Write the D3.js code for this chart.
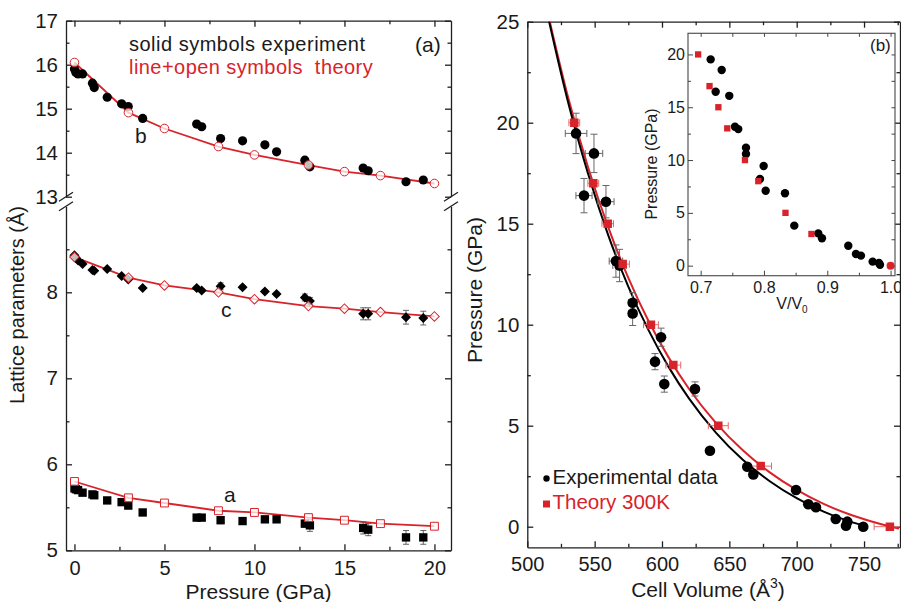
<!DOCTYPE html>
<html lang="en">
<head>
<meta charset="utf-8">
<script src="https://d3js.org/d3.v7.min.js"></script>
<style>
  body { margin: 0; background: #fff; }
  svg text { font-family: "Liberation Sans", Arial, sans-serif; fill: #1a1a1a; }
</style>
</head>
<body>
<div class="display1"></div>
<script>
// ---------- panel (a): lattice parameters vs pressure ----------
var pExp = [0, 0.08, 0.2, 0.45, 1.0, 1.1, 1.82, 2.62, 2.99, 3.79, 6.79, 7.07, 8.12, 9.34, 10.58, 11.23, 12.8, 13.08, 16.04, 16.32, 18.42, 19.38];
var bExp = [15.90, 15.82, 15.79, 15.79, 15.58, 15.48, 15.26, 15.11, 15.05, 14.78, 14.65, 14.59, 14.32, 14.27, 14.18, 14.02, 13.83, 13.68, 13.65, 13.59, 13.34, 13.38];
var cExp = [8.43, 8.40, 8.37, 8.33, 8.26, 8.25, 8.27, 8.19, 8.15, 8.05, 8.05, 8.02, 8.07, 8.06, 8.01, 7.98, 7.94, 7.90, 7.75, 7.75, 7.71, 7.70];
var aExp = [5.72, 5.71, 5.70, 5.67, 5.65, 5.64, 5.58, 5.56, 5.52, 5.44, 5.38, 5.38, 5.35, 5.34, 5.36, 5.36, 5.31, 5.29, 5.26, 5.24, 5.15, 5.15];
var cErr = [0, 0, 0, 0, 0, 0, 0, 0, 0, 0, 0.02, 0.02, 0.04, 0.02, 0.02, 0.02, 0.04, 0.04, 0.07, 0.07, 0.08, 0.08];
var aErr = [0, 0, 0, 0, 0, 0, 0, 0, 0, 0, 0.02, 0.02, 0.04, 0.02, 0.02, 0.02, 0.04, 0.07, 0.07, 0.07, 0.08, 0.08];

var pTh = [0, 3, 5, 8, 10, 13, 15, 17, 20];
var bTh = [16.05, 14.91, 14.55, 14.14, 13.95, 13.72, 13.57, 13.48, 13.30];
var cTh = [8.41, 8.17, 8.08, 8.00, 7.92, 7.84, 7.81, 7.77, 7.72];
var aTh = [5.80, 5.61, 5.55, 5.46, 5.44, 5.38, 5.35, 5.31, 5.28];

// ---------- panel (b): pressure vs cell volume ----------
var vExp = [536.2, 549.5, 542.1, 558.4, 565.8, 568.5, 578.2, 578.2, 599.3, 594.8, 601.7, 624.5, 635.6, 663.3, 667.8, 699.5, 708.6, 714.3, 729.0, 737.6, 736.6, 749.4];
var pvExp = [19.47, 18.48, 16.39, 16.09, 13.15, 12.93, 11.09, 10.56, 9.38, 8.17, 7.06, 6.82, 3.76, 2.97, 2.59, 1.82, 1.11, 0.96, 0.38, 0.25, 0.05, 0.0];
var vExpErr = [8, 6.5, 6, 6, 5, 5, 3, 3, 2, 2, 2, 2, 1.5, 1, 1, 1, 1, 1, 1, 1, 1, 1];
var pExpErr = [1.0, 0.95, 0.85, 0.8, 0.8, 0.8, 0.5, 0.6, 0.45, 0.4, 0.4, 0.35, 0.15, 0.1, 0.1, 0.1, 0.05, 0.05, 0.05, 0.05, 0.05, 0.05];

var vTh = [534.9, 549.0, 559.7, 570.8, 591.8, 608.4, 641.8, 673.3, 769.2];
var pvTh = [20, 17, 15, 13, 10, 8, 5, 3, 0];
var vThErr = [4, 4, 4.3, 5, 5.5, 5.5, 7.4, 8, 11.7];

// fitted EOS curves
var vFitExp = [516, 530, 545, 560, 575, 590, 605, 620, 640, 660, 680, 700, 720, 735, 752];
var pFitExp = [25.06, 21.09, 17.50, 14.45, 11.89, 9.73, 7.90, 6.35, 4.66, 3.31, 2.25, 1.41, 0.75, 0.36, 0];
var vFitTh = [516, 530, 545, 560, 575, 590, 605, 620, 640, 660, 680, 700, 720, 740, 755, 770, 776];
var pFitTh = [25.20, 21.33, 17.82, 14.84, 12.32, 10.18, 8.37, 6.83, 5.14, 3.78, 2.69, 1.82, 1.13, 0.59, 0.27, 0, -0.09];

// inset: pressure vs V/V0
var rExp = [0.7158, 0.7332, 0.7237, 0.7452, 0.7542, 0.7594, 0.7716, 0.7716, 0.7937, 0.7995, 0.8027, 0.8332, 0.8479, 0.8858, 0.8916, 0.9332, 0.9453, 0.9532, 0.9717, 0.9817, 0.9833];
var prExp = [19.53, 18.52, 16.46, 16.08, 13.15, 12.93, 11.16, 10.57, 8.2, 9.43, 7.1, 6.85, 3.79, 3.06, 2.59, 1.89, 1.11, 0.95, 0.38, 0.25, 0.08];
var rTh = [0.696, 0.714, 0.728, 0.742, 0.770, 0.791, 0.834, 0.875, 1.0];
var prTh = [20, 17, 15, 13, 10, 8, 5, 3, 0];

var width = 901, height = 602;
var red = '#d8232a', ink = '#1f1f1f';
var svg = d3.select('.display1').append('svg').attr('width', width).attr('height', height);
var fmtInt = d3.format('d');

function ax(g, axis, fs) {
  g.call(axis).attr('font-size', fs).attr('color', ink);
  g.selectAll('path, line').attr('stroke-width', 1.3);
  return g;
}
function minor(g, axis) {
  g.call(axis).attr('color', ink);
  g.select('.domain').remove();
  g.selectAll('line').attr('stroke-width', 1.3);
}

// ================= left panel =================
var x1 = d3.scaleLinear().domain([-0.47, 20.92]).range([66, 451]);
var yUp = d3.scaleLinear().domain([13, 17]).range([196.7, 20.7]);
var yLo = d3.scaleLinear().domain([5, 9]).range([550.3, 206.3]);
var L = svg.append('g');

ax(L.append('g').attr('transform', 'translate(0,550.3)'),
  d3.axisBottom(x1).tickValues([0, 5, 10, 15, 20]).tickFormat(fmtInt).tickSizeInner(-6).tickSizeOuter(0).tickPadding(11), 20);
minor(L.append('g').attr('transform', 'translate(0,550.3)'),
  d3.axisBottom(x1).tickValues([2.5, 7.5, 12.5, 17.5]).tickSize(-3.5).tickFormat(''));
ax(L.append('g').attr('transform', 'translate(0,20.7)'),
  d3.axisTop(x1).tickValues([0, 5, 10, 15, 20]).tickSizeInner(-6).tickSizeOuter(0).tickFormat(''), 20);
minor(L.append('g').attr('transform', 'translate(0,20.7)'),
  d3.axisTop(x1).tickValues([2.5, 7.5, 12.5, 17.5]).tickSize(-3.5).tickFormat(''));

[[yUp, [13, 14, 15, 16, 17], [13.5, 14.5, 15.5, 16.5]], [yLo, [5, 6, 7, 8], [5.5, 6.5, 7.5, 8.5]]].forEach(function(s) {
  ax(L.append('g').attr('transform', 'translate(66,0)'),
    d3.axisLeft(s[0]).tickValues(s[1]).tickFormat(fmtInt).tickSizeInner(-6).tickSizeOuter(0).tickPadding(8), 20.5);
  minor(L.append('g').attr('transform', 'translate(66,0)'),
    d3.axisLeft(s[0]).tickValues(s[2]).tickSize(-3.5).tickFormat(''));
  ax(L.append('g').attr('transform', 'translate(451,0)'),
    d3.axisRight(s[0]).tickValues(s[1]).tickSizeInner(-6).tickSizeOuter(0).tickFormat(''), 20);
  minor(L.append('g').attr('transform', 'translate(451,0)'),
    d3.axisRight(s[0]).tickValues(s[2]).tickSize(-3.5).tickFormat(''));
});

// axis break marks
[66, 451].forEach(function(bx) {
  [yUp(13), yLo(9)].forEach(function(by) {
    L.append('line').attr('x1', bx - 7).attr('y1', by + 4.5).attr('x2', bx + 7).attr('y2', by - 4.5)
      .attr('stroke', ink).attr('stroke-width', 1.3);
  });
});

var lineB = d3.line().x(function(d) { return x1(d[0]); }).y(function(d) { return yUp(d[1]); });
var lineLo = d3.line().x(function(d) { return x1(d[0]); }).y(function(d) { return yLo(d[1]); });

L.append('path').attr('d', lineB(d3.zip(pTh, bTh))).attr('fill', 'none').attr('stroke', red).attr('stroke-width', 1.8);
L.append('path').attr('d', lineLo(d3.zip(pTh, cTh))).attr('fill', 'none').attr('stroke', red).attr('stroke-width', 1.8);
L.append('path').attr('d', lineLo(d3.zip(pTh, aTh))).attr('fill', 'none').attr('stroke', red).attr('stroke-width', 1.8);

// error bars on c and a
[[cExp, cErr], [aExp, aErr]].forEach(function(s) {
  pExp.forEach(function(p, i) {
    var e = s[1][i];
    if (!e) return;
    var xx = x1(p), y0 = yLo(s[0][i] - e), y1 = yLo(s[0][i] + e);
    L.append('line').attr('x1', xx).attr('x2', xx).attr('y1', y0).attr('y2', y1).attr('stroke', '#555').attr('stroke-width', 0.9);
    [y0, y1].forEach(function(yy) {
      L.append('line').attr('x1', xx - 3).attr('x2', xx + 3).attr('y1', yy).attr('y2', yy).attr('stroke', '#555').attr('stroke-width', 0.9);
    });
  });
});

// experiment (solid)
L.selectAll('.bE').data(d3.zip(pExp, bExp)).join('circle')
  .attr('cx', function(d) { return x1(d[0]); }).attr('cy', function(d) { return yUp(d[1]); })
  .attr('r', 4.6).attr('fill', '#000');
var sq = d3.symbol().type(d3.symbolSquare);
L.selectAll('.cE').data(d3.zip(pExp, cExp)).join('path')
  .attr('d', sq.size(50)())
  .attr('transform', function(d) { return 'translate(' + x1(d[0]) + ',' + yLo(d[1]) + ') rotate(45)'; })
  .attr('fill', '#000');
L.selectAll('.aE').data(d3.zip(pExp, aExp)).join('path')
  .attr('d', sq.size(70)())
  .attr('transform', function(d) { return 'translate(' + x1(d[0]) + ',' + yLo(d[1]) + ')'; })
  .attr('fill', '#000');

// theory (open)
L.selectAll('.bT').data(d3.zip(pTh, bTh)).join('circle')
  .attr('cx', function(d) { return x1(d[0]); }).attr('cy', function(d) { return yUp(d[1]); })
  .attr('r', 4.3).attr('fill', '#fff').attr('fill-opacity', 0.75).attr('stroke', red).attr('stroke-width', 1);
L.selectAll('.cT').data(d3.zip(pTh, cTh)).join('path')
  .attr('d', sq.size(46)())
  .attr('transform', function(d) { return 'translate(' + x1(d[0]) + ',' + yLo(d[1]) + ') rotate(45)'; })
  .attr('fill', '#fff').attr('fill-opacity', 0.75).attr('stroke', red).attr('stroke-width', 1);
L.selectAll('.aT').data(d3.zip(pTh, aTh)).join('path')
  .attr('d', sq.size(62)())
  .attr('transform', function(d) { return 'translate(' + x1(d[0]) + ',' + yLo(d[1]) + ')'; })
  .attr('fill', '#fff').attr('fill-opacity', 0.75).attr('stroke', red).attr('stroke-width', 1);

// labels
L.append('text').attr('x', 129).attr('y', 51).attr('font-size', 20).style('letter-spacing', '0.5px')
  .text('solid symbols experiment');
L.append('text').attr('x', 129).attr('y', 73.5).attr('font-size', 20).style('letter-spacing', '0.45px')
  .style('fill', red).style('white-space', 'pre').text('line+open symbols  theory');
L.append('text').attr('x', 415).attr('y', 52).attr('font-size', 21).text('(a)');
L.append('text').attr('x', 135).attr('y', 143).attr('font-size', 21).text('b');
L.append('text').attr('x', 221).attr('y', 317).attr('font-size', 21).text('c');
L.append('text').attr('x', 224).attr('y', 502).attr('font-size', 21).text('a');
L.append('text').attr('text-anchor', 'middle').attr('x', 258.5).attr('y', 599).attr('font-size', 21).text('Pressure (GPa)');
L.append('text').attr('text-anchor', 'middle').attr('transform', 'translate(24,305) rotate(-90)')
  .attr('font-size', 20).text('Lattice parameters (Å)');

// ================= right panel =================
var x2 = d3.scaleLinear().domain([500, 776.7]).range([527.3, 900]);
var y2 = d3.scaleLinear().domain([-1.02, 25]).range([547.3, 21.7]);
var R = svg.append('g');

ax(R.append('g').attr('transform', 'translate(0,547.3)'),
  d3.axisBottom(x2).tickValues([500, 550, 600, 650, 700, 750]).tickSizeInner(-6).tickSizeOuter(0).tickPadding(10), 20);
minor(R.append('g').attr('transform', 'translate(0,547.3)'),
  d3.axisBottom(x2).tickValues([525, 575, 625, 675, 725, 775]).tickSize(-3.5).tickFormat(''));
ax(R.append('g').attr('transform', 'translate(0,21.7)'),
  d3.axisTop(x2).tickValues([500, 550, 600, 650, 700, 750]).tickSizeInner(-6).tickSizeOuter(0).tickFormat(''), 20);
minor(R.append('g').attr('transform', 'translate(0,21.7)'),
  d3.axisTop(x2).tickValues([525, 575, 625, 675, 725, 775]).tickSize(-3.5).tickFormat(''));
ax(R.append('g').attr('transform', 'translate(527.3,0)'),
  d3.axisLeft(y2).tickValues([0, 5, 10, 15, 20, 25]).tickSizeInner(-6).tickSizeOuter(0).tickPadding(8), 20.5);
minor(R.append('g').attr('transform', 'translate(527.3,0)'),
  d3.axisLeft(y2).tickValues([2.5, 7.5, 12.5, 17.5, 22.5]).tickSize(-3.5).tickFormat(''));
ax(R.append('g').attr('transform', 'translate(900,0)'),
  d3.axisRight(y2).tickValues([0, 5, 10, 15, 20, 25]).tickSizeInner(-6).tickSizeOuter(0).tickFormat(''), 20);
minor(R.append('g').attr('transform', 'translate(900,0)'),
  d3.axisRight(y2).tickValues([2.5, 7.5, 12.5, 17.5, 22.5]).tickSize(-3.5).tickFormat(''));

R.append('clipPath').attr('id', 'clipR').append('rect')
  .attr('x', 527.3).attr('y', 21.7).attr('width', 900 - 527.3).attr('height', 547.3 - 21.7);
var fit = d3.line().curve(d3.curveMonotoneX).x(function(d) { return x2(d[0]); }).y(function(d) { return y2(d[1]); });
var C = R.append('g').attr('clip-path', 'url(#clipR)');
C.append('path').attr('d', fit(d3.zip(vFitTh, pFitTh))).attr('fill', 'none').attr('stroke', red).attr('stroke-width', 2);
C.append('path').attr('d', fit(d3.zip(vFitExp, pFitExp))).attr('fill', 'none').attr('stroke', '#000').attr('stroke-width', 2);

function bar(g, xa, ya, xb, yb, col) {
  g.append('line').attr('x1', xa).attr('y1', ya).attr('x2', xb).attr('y2', yb).attr('stroke', col).attr('stroke-width', 1);
}
// experimental error bars
vExp.forEach(function(v, i) {
  var cx = x2(v), cy = y2(pvExp[i]);
  var xa = x2(v - vExpErr[i]), xb = x2(v + vExpErr[i]);
  var ya = y2(pvExp[i] + pExpErr[i]), yb = y2(pvExp[i] - pExpErr[i]);
  if (xb - xa > 8) {
    bar(C, xa, cy, xb, cy, '#666'); bar(C, xa, cy - 3.5, xa, cy + 3.5, '#666'); bar(C, xb, cy - 3.5, xb, cy + 3.5, '#666');
  }
  if (yb - ya > 8) {
    bar(C, cx, ya, cx, yb, '#666'); bar(C, cx - 3.5, ya, cx + 3.5, ya, '#666'); bar(C, cx - 3.5, yb, cx + 3.5, yb, '#666');
  }
});
// theory error bars (volume)
vTh.forEach(function(v, i) {
  var cy = y2(pvTh[i]), xa = x2(v - vThErr[i]), xb = x2(v + vThErr[i]);
  bar(C, xa, cy, xb, cy, '#e36a6a'); bar(C, xa, cy - 3.5, xa, cy + 3.5, '#e36a6a'); bar(C, xb, cy - 3.5, xb, cy + 3.5, '#e36a6a');
});

C.selectAll('.ve').data(d3.zip(vExp, pvExp)).join('circle')
  .attr('cx', function(d) { return x2(d[0]); }).attr('cy', function(d) { return y2(d[1]); })
  .attr('r', 5.3).attr('fill', '#000');
C.selectAll('.vt').data(d3.zip(vTh, pvTh)).join('path')
  .attr('d', sq.size(72)())
  .attr('transform', function(d) { return 'translate(' + x2(d[0]) + ',' + y2(d[1]) + ')'; })
  .attr('fill', red);

// legend
R.append('circle').attr('cx', 546.5).attr('cy', 478.5).attr('r', 3.2).attr('fill', '#000');
R.append('text').attr('x', 552.5).attr('y', 484).attr('font-size', 20.5).text('Experimental data');
R.append('rect').attr('x', 543).attr('y', 500.5).attr('width', 7).attr('height', 7).attr('fill', red);
R.append('text').attr('x', 552.5).attr('y', 509).attr('font-size', 20.5).style('fill', red).text('Theory 300K');

var xt = R.append('text').attr('text-anchor', 'middle').attr('x', 708).attr('y', 597).attr('font-size', 21);
xt.append('tspan').text('Cell Volume (Å');
xt.append('tspan').attr('font-size', 14).attr('dy', -9).text('3');
xt.append('tspan').attr('dy', 9).text(')');
R.append('text').attr('text-anchor', 'middle').attr('transform', 'translate(482,290) rotate(-90)')
  .attr('font-size', 21).text('Pressure (GPa)');

// ================= inset =================
var xi = d3.scaleLinear().domain([0.68, 1.007]).range([688, 895]);
var yi = d3.scaleLinear().domain([-0.95, 22]).range([275.7, 33.3]);
var I = svg.append('g');
I.append('rect').attr('x', 688).attr('y', 33.3).attr('width', 207).attr('height', 242.4)
  .attr('fill', '#fff').attr('stroke', '#555').attr('stroke-width', 1.2);

function iax(g, axis, fs) {
  g.call(axis).attr('font-size', fs).attr('color', '#444');
  g.select('.domain').remove();
  g.selectAll('line').attr('stroke-width', 1);
}
iax(I.append('g').attr('transform', 'translate(0,275.7)'),
  d3.axisBottom(xi).tickValues([0.7, 0.8, 0.9, 1.0]).tickSize(-5).tickPadding(6).tickFormat(d3.format('.1f')), 16);
iax(I.append('g').attr('transform', 'translate(0,275.7)'),
  d3.axisBottom(xi).tickValues([0.75, 0.85, 0.95]).tickSize(-3).tickFormat(''), 16);
iax(I.append('g').attr('transform', 'translate(0,33.3)'),
  d3.axisTop(xi).tickValues([0.7, 0.75, 0.8, 0.85, 0.9, 0.95, 1.0]).tickSize(-3.5).tickFormat(''), 16);
iax(I.append('g').attr('transform', 'translate(688,0)'),
  d3.axisLeft(yi).tickValues([0, 5, 10, 15, 20]).tickSize(-5).tickPadding(3), 16);
iax(I.append('g').attr('transform', 'translate(688,0)'),
  d3.axisLeft(yi).tickValues([2.5, 7.5, 12.5, 17.5]).tickSize(-3).tickFormat(''), 16);
iax(I.append('g').attr('transform', 'translate(895,0)'),
  d3.axisRight(yi).tickValues([0, 2.5, 5, 7.5, 10, 12.5, 15, 17.5, 20]).tickSize(-3.5).tickFormat(''), 16);

I.selectAll('.ie').data(d3.zip(rExp, prExp)).join('circle')
  .attr('cx', function(d) { return xi(d[0]); }).attr('cy', function(d) { return yi(d[1]); })
  .attr('r', 4.2).attr('fill', '#000');
I.selectAll('.it').data(d3.zip(rTh, prTh)).join('path')
  .attr('d', function(d) { return d[0] === 1.0 ? d3.symbol().type(d3.symbolCircle).size(50)() : sq.size(40)(); })
  .attr('transform', function(d) { return 'translate(' + xi(d[0]) + ',' + yi(d[1]) + ')'; })
  .attr('fill', red);

I.append('text').attr('x', 870).attr('y', 51).attr('font-size', 17).text('(b)');
I.append('text').attr('text-anchor', 'middle').attr('transform', 'translate(657,164) rotate(-90)')
  .attr('font-size', 16).text('Pressure (GPa)');
var vt = I.append('text').attr('text-anchor', 'middle').attr('x', 792).attr('y', 309).attr('font-size', 16);
vt.append('tspan').text('V/V');
vt.append('tspan').attr('font-size', 10).attr('dy', 4).text('0');
</script>
</body>
</html>
